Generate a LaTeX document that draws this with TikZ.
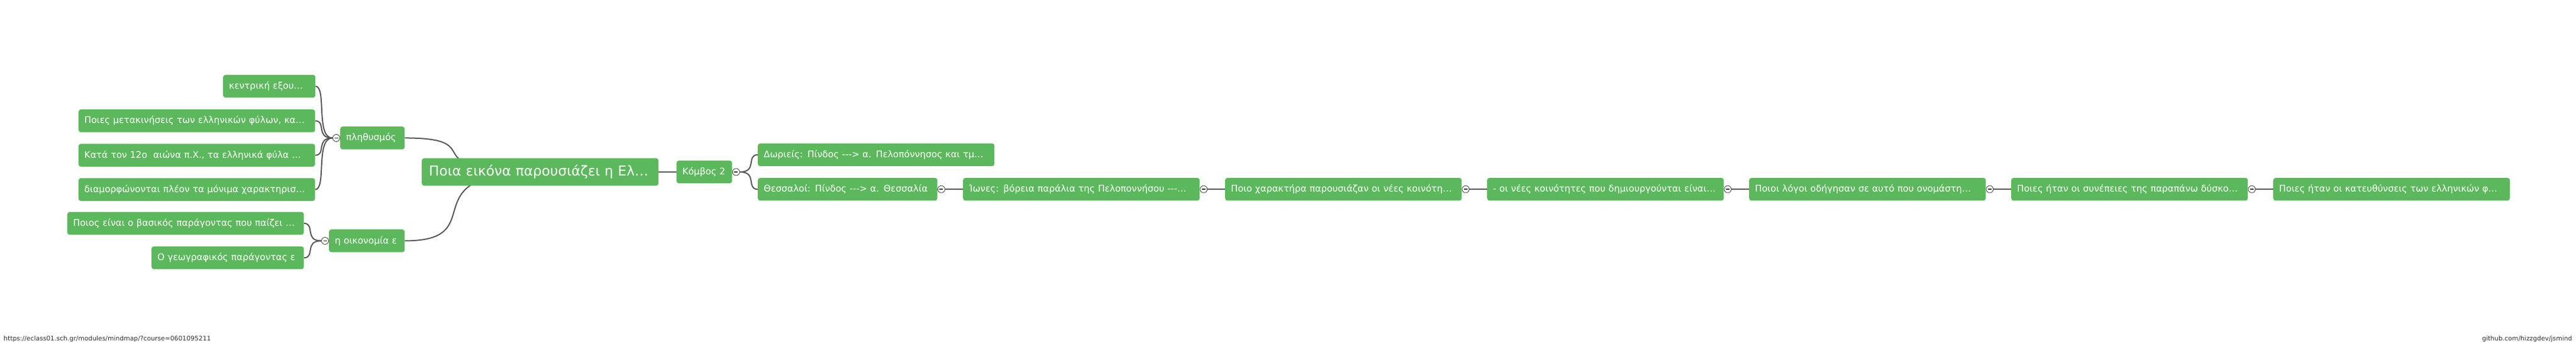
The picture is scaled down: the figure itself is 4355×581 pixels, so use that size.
\documentclass[tikz,border=0pt]{standalone}
\usepackage{fontspec}
\setmainfont{DejaVu Sans}
\usetikzlibrary{calc}
\definecolor{jmgreen}{HTML}{5CB85C}
\definecolor{jmline}{HTML}{555555}
\definecolor{jmfoot}{HTML}{333333}
\pgfdeclarelayer{lines}
\pgfsetlayers{lines,main}
\tikzset{
  jmnode/.style={fill=jmgreen, rounded corners=4pt, text=white,
    font=\fontsize{15.4}{18}\selectfont, inner xsep=10pt, inner ysep=0pt,
    minimum height=38.5pt, anchor=north west, align=left, text width=#1},
  jmroot/.style={fill=jmgreen, rounded corners=4pt, text=white,
    font=\fontsize{23.2}{27}\selectfont, inner xsep=12pt, inner ysep=0pt,
    minimum height=46.5pt, anchor=north west, align=left, text width=#1},
  jmexp/.style={circle, draw=jmfoot, line width=0.8pt, fill=white, minimum size=12pt, inner sep=0pt,
    path picture={\draw[jmfoot, line width=1.8pt] ([xshift=-3pt]path picture bounding box.center) -- ([xshift=3pt]path picture bounding box.center);}},
  jmlink/.style={draw=jmline, line width=2pt},
  jmfooter/.style={font=\fontsize{10.8}{13}\selectfont, text=jmfoot, inner sep=0pt}
}
\newcommand\jmlink[2]{\draw[jmlink] let \p1=(#1), \p2=(#2) in (\p1) .. controls ({\x1+(\x2-\x1)*2/3},\y1) and (\x1,\y2) .. (\p2);}
\newcommand\jmarrow{-{}-{}->}
\begin{document}
\begin{tikzpicture}[x=1pt,y=-1pt]
\useasboundingbox (0,0) rectangle (4355,581);
% root
\node[jmroot=376pt] (root) at (713,267.5) {\mbox{Ποια εικόνα παρουσιάζει η Ελ…}};
% left side
\node[jmnode=89pt] (pl) at (575,214) {\mbox{πληθυσμός}};
\node[jmnode=108pt] (ec) at (556,388) {\mbox{η οικονομία ε}};
\node[jmnode=136pt] (pa) at (377,126.5) {\mbox{κεντρική εξου…}};
\node[jmnode=380pt] (pb) at (132.5,185) {\mbox{Ποιες μετακινήσεις των ελληνικών φύλων, κα…}};
\node[jmnode=380pt] (pc) at (132.5,243.2) {\mbox{Κατά τον 12ο~ αιώνα π.Χ., τα ελληνικά φύλα …}};
\node[jmnode=380pt] (pd) at (132.5,301.2) {\mbox{διαμορφώνονται πλέον τα μόνιμα χαρακτηρισ…}};
\node[jmnode=380pt] (ea) at (113.5,358.5) {\mbox{Ποιος είναι ο βασικός παράγοντας που παίζει …}};
\node[jmnode=237.5pt] (eb) at (256,416.7) {\mbox{Ο γεωγραφικός παράγοντας ε}};
% right side
\node[jmnode=74pt] (k2) at (1143.5,271.5) {\mbox{Κόμβος 2}};
\node[jmnode=380pt] (dor) at (1281,242.5) {\mbox{Δωριείς: Πίνδος \jmarrow{} α. Πελοπόννησος και τμ…}};
\node[jmnode=283.5pt] (the) at (1281,300.75) {\mbox{Θεσσαλοί: Πίνδος \jmarrow{} α. Θεσσαλία}};
\node[jmnode=380pt] (ion) at (1628,300.75) {\mbox{Ίωνες: βόρεια παράλια της Πελοποννήσου -{}-{}-…}};
\node[jmnode=380pt] (cha) at (2071,300.75) {\mbox{Ποιο χαρακτήρα παρουσιάζαν οι νέες κοινότη…}};
\node[jmnode=380pt] (koi) at (2514,300.75) {\mbox{- οι νέες κοινότητες που δημιουργούνται είναι…}};
\node[jmnode=380pt] (log) at (2957,300.75) {\mbox{Ποιοι λόγοι οδήγησαν σε αυτό που ονομάστη…}};
\node[jmnode=380pt] (syn) at (3400,300.75) {\mbox{Ποιες ήταν οι συνέπειες της παραπάνω δύσκο…}};
\node[jmnode=380pt] (kat) at (3843,300.75) {\mbox{Ποιες ήταν οι κατευθύνσεις των ελληνικών φ…}};
% line end points
\coordinate (pl-o) at ($(pl.west)+(-13,0)$);
\coordinate (ec-o) at ($(ec.west)+(-13,0)$);
\coordinate (k2-o) at ($(k2.east)+(13,0)$);
\coordinate (the-o) at ($(the.east)+(13,0)$);
\coordinate (ion-o) at ($(ion.east)+(13,0)$);
\coordinate (cha-o) at ($(cha.east)+(13,0)$);
\coordinate (koi-o) at ($(koi.east)+(13,0)$);
\coordinate (log-o) at ($(log.east)+(13,0)$);
\coordinate (syn-o) at ($(syn.east)+(13,0)$);
% expanders
\node[jmexp] (x-pl) at ($(pl.west)+(-6.5,0)$) {};
\node[jmexp] (x-ec) at ($(ec.west)+(-6.5,0)$) {};
\node[jmexp] (x-k2) at ($(k2.east)+(6.5,0)$) {};
\node[jmexp] (x-the) at ($(the.east)+(6.5,0)$) {};
\node[jmexp] (x-ion) at ($(ion.east)+(6.5,0)$) {};
\node[jmexp] (x-cha) at ($(cha.east)+(6.5,0)$) {};
\node[jmexp] (x-koi) at ($(koi.east)+(6.5,0)$) {};
\node[jmexp] (x-log) at ($(log.east)+(6.5,0)$) {};
\node[jmexp] (x-syn) at ($(syn.east)+(6.5,0)$) {};
% footer
\node[jmfooter, anchor=base west] (url) at (6,576) {https://eclass01.sch.gr/modules/mindmap/?course=0601095211};
\node[jmfooter, anchor=base east] (gh) at (4348.7,576) {github.com/hizzgdev/jsmind};
% connectors
\begin{pgfonlayer}{lines}
\fill[white] (0,0) rectangle (4355,581);
\jmlink{pl.east}{root.center}
\jmlink{ec.east}{root.center}
\jmlink{k2.west}{root.center}
\jmlink{pa.east}{pl-o}
\jmlink{pb.east}{pl-o}
\jmlink{pc.east}{pl-o}
\jmlink{pd.east}{pl-o}
\jmlink{ea.east}{ec-o}
\jmlink{eb.east}{ec-o}
\jmlink{dor.west}{k2-o}
\jmlink{the.west}{k2-o}
\jmlink{ion.west}{the-o}
\jmlink{cha.west}{ion-o}
\jmlink{koi.west}{cha-o}
\jmlink{log.west}{koi-o}
\jmlink{syn.west}{log-o}
\jmlink{kat.west}{syn-o}
\end{pgfonlayer}
\end{tikzpicture}
\end{document}
